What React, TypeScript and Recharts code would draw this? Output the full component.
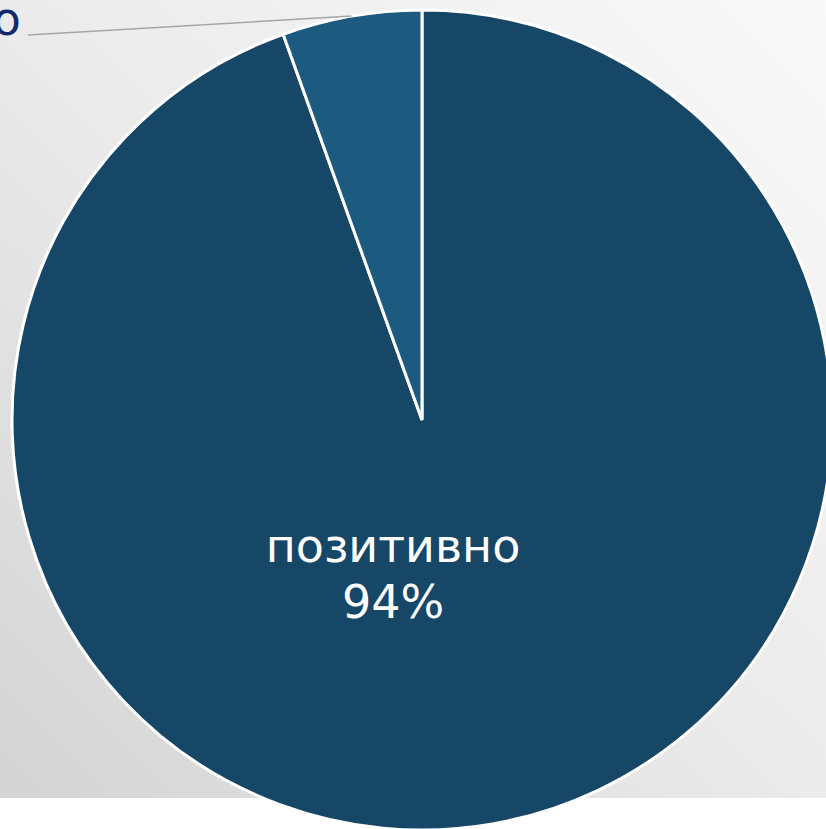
import React from 'react';
import { PieChart, Pie, Cell } from 'recharts';

const categories = ['позитивно', 'негативно'];
const values = [94.5, 5.5];
const percentLabels = ['94%', '6%'];
const colors = ['#164767', '#1d5a7f'];

const data = categories.map((name, i) => ({ name, value: values[i], pct: percentLabels[i] }));

const RAD = Math.PI / 180;

const renderLabel = (props: any) => {
  const { cx, cy, outerRadius, midAngle, index } = props;
  if (index === 0) {
    const x = cx - 29;
    return (
      <g>
        <text x={x} y={cy + 142} fill="#ffffff" textAnchor="middle" fontSize={46} fontFamily="DejaVu Sans">
          {categories[0]}
        </text>
        <text x={x} y={cy + 198} fill="#ffffff" textAnchor="middle" fontSize={46} fontFamily="DejaVu Sans">
          {percentLabels[0]}
        </text>
      </g>
    );
  }
  const sx = cx + Math.cos(-midAngle * RAD) * outerRadius;
  const sy = cy + Math.sin(-midAngle * RAD) * outerRadius;
  const ex = cx - 394;
  const ey = cy - 385;
  return (
    <g>
      <line x1={sx} y1={sy} x2={ex} y2={ey} stroke="#a6a6a6" strokeWidth={1.5} />
      <text x={ex - 7} y={ey} fill="#0f2a6a" textAnchor="end" fontSize={46} fontFamily="DejaVu Sans">
        {categories[1]}
      </text>
    </g>
  );
};

export default function App() {
  return (
    <div style={{ position: 'absolute', left: 0, top: 0, width: 826, height: 829, background: '#ffffff', overflow: 'hidden' }}>
      <div
        style={{
          position: 'absolute',
          left: 0,
          top: 0,
          width: 826,
          height: 798,
          background: 'linear-gradient(to bottom left, #f9f9f9 0%, #ebebeb 50%, #d4d4d4 100%)',
        }}
      />
      <div style={{ position: 'absolute', left: 0, top: 0 }}>
        <PieChart width={826} height={829} margin={{ top: 0, right: 0, bottom: 0, left: 0 }} style={{ overflow: 'visible' }}>
          <Pie
            data={data}
            dataKey="value"
            nameKey="name"
            cx={422}
            cy={420}
            outerRadius={410}
            startAngle={90}
            endAngle={-270}
            stroke="#ffffff"
            strokeWidth={3}
            isAnimationActive={false}
            label={renderLabel}
            labelLine={false}
          >
            {data.map((d, i) => (
              <Cell key={d.name} fill={colors[i]} />
            ))}
          </Pie>
        </PieChart>
      </div>
    </div>
  );
}
